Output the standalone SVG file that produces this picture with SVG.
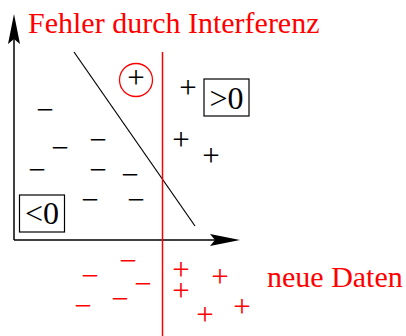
<svg xmlns="http://www.w3.org/2000/svg" width="406" height="336" viewBox="0 0 406 336">
<style>
.t{font-family:"Liberation Serif","Times New Roman",serif;font-size:30px}
.s{font-family:"Liberation Serif","Times New Roman",serif;font-size:31px;text-anchor:middle}
.b{font-family:"Liberation Serif","Times New Roman",serif;font-size:32px;text-anchor:middle}
.k{fill:#000}
.r{fill:#ff0000}
.ax{stroke:#000;stroke-width:1.5;fill:none}
.box{stroke:#000;stroke-width:1.2;fill:none}
</style>
<rect width="406" height="336" fill="#fff"/>
<g id="axes">
<line class="ax" x1="14" y1="240" x2="14" y2="30"/>
<path d="M14,14 L20,44 L14,39 L8,44 Z" fill="#000"/>
<line class="ax" x1="14" y1="240" x2="225" y2="240"/>
<path d="M240,240 L210,246 L215,240 L210,234 Z" fill="#000"/>
</g>
<g id="connectors">
<line x1="74" y1="52" x2="195" y2="226" stroke="#000" stroke-width="1.2"/>
<line x1="162.5" y1="52" x2="162.5" y2="336" stroke="#ff0000" stroke-width="1.5"/>
</g>
<g id="title"><text class="t r" x="28" y="32.5">Fehler durch Interferenz</text></g>
<g id="neue"><text class="t r" x="267" y="287">neue Daten</text></g>
<g id="circled">
<circle cx="136" cy="80" r="16.5" fill="none" stroke="#ff0000" stroke-width="1.3"/>
<text class="s k" x="136" y="87.8">+</text>
</g>
<g id="pos">
<rect class="box" x="204" y="79" width="45" height="37"/>
<text class="b k" x="226.5" y="109">&gt;0</text>
</g>
<g id="neg">
<rect class="box" x="19.5" y="195" width="45" height="37"/>
<text class="b k" x="42" y="224">&lt;0</text>
</g>
<g id="black-signs" class="s k">
<text x="188" y="97.8">+</text>
<text x="181" y="149.8">+</text>
<text x="211" y="165.8">+</text>
<text x="45" y="119.8">−</text>
<text x="60" y="157.8">−</text>
<text x="98" y="149.8">−</text>
<text x="37" y="179.8">−</text>
<text x="98" y="179.8">−</text>
<text x="130" y="184.8">−</text>
<text x="90" y="209.8">−</text>
<text x="136" y="209.8">−</text>
</g>
<g id="red-signs" class="s r">
<text x="90" y="285.8">−</text>
<text x="128" y="270.8">−</text>
<text x="143" y="293.8">−</text>
<text x="83" y="315.8">−</text>
<text x="120" y="308.8">−</text>
<text x="181" y="279.8">+</text>
<text x="220" y="286.8">+</text>
<text x="181" y="300.8">+</text>
<text x="205" y="324.8">+</text>
<text x="242" y="316.8">+</text>
</g>
</svg>
